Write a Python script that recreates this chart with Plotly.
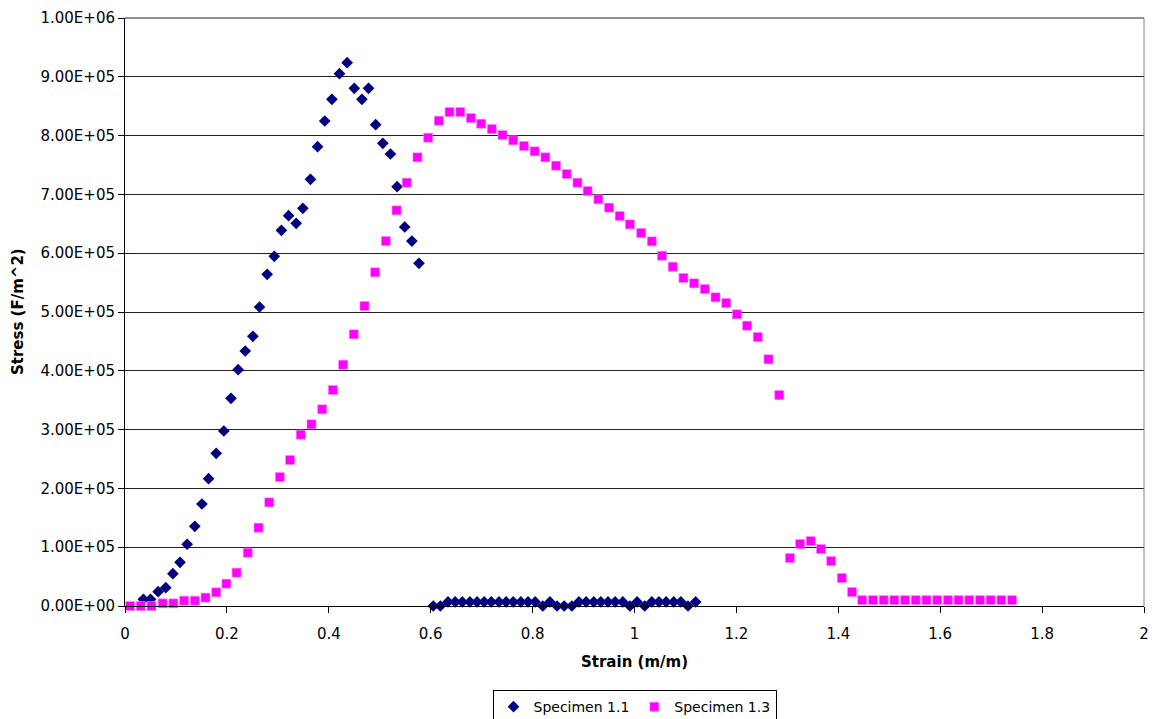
import plotly.graph_objects as go

# ---- data ----
spec11_strain = [0.036, 0.050, 0.065, 0.080, 0.094, 0.108, 0.122, 0.137, 0.151, 0.164,
                 0.179, 0.194, 0.208, 0.222, 0.236, 0.251, 0.264, 0.279, 0.293, 0.307,
                 0.321, 0.336, 0.349, 0.364, 0.378, 0.392, 0.406, 0.421, 0.436, 0.450,
                 0.465, 0.478, 0.492, 0.506, 0.521, 0.534, 0.549, 0.563, 0.577,
                 0.605, 0.619, 0.634, 0.648, 0.662, 0.677, 0.691, 0.705, 0.719, 0.734,
                 0.748, 0.762, 0.777, 0.791, 0.805, 0.820, 0.834, 0.848, 0.862, 0.877,
                 0.891, 0.905, 0.920, 0.934, 0.948, 0.962, 0.977, 0.991, 1.005, 1.020,
                 1.034, 1.048, 1.062, 1.077, 1.091, 1.105, 1.120]
spec11_stress = [11400, 11400, 24300, 31100, 54900, 74300, 105000, 135500, 173500, 216500,
                 259700, 297600, 353200, 401900, 433700, 458700, 508500, 564100, 594700, 638900,
                 663800, 650800, 676400, 725700, 781100, 824800, 861700, 905300, 924000, 880400,
                 861700, 880400, 818600, 786900, 768700, 713100, 644600, 620700, 582800,
                 0, 0, 7000, 7000, 7000, 7000, 7000, 7000, 7000, 7000,
                 7000, 7000, 7000, 7000, 7000, 0, 7000, 0, 0, 0,
                 7000, 7000, 7000, 7000, 7000, 7000, 7000, 0, 7000, 0,
                 7000, 7000, 7000, 7000, 7000, 0, 7000]

spec13_strain = [0.010, 0.031, 0.052, 0.074, 0.095, 0.116, 0.137, 0.158, 0.179, 0.199,
                 0.219, 0.241, 0.262, 0.283, 0.304, 0.324, 0.345, 0.366, 0.387, 0.408,
                 0.428, 0.449, 0.470, 0.491, 0.512, 0.533, 0.553, 0.574, 0.595, 0.616,
                 0.637, 0.658, 0.679, 0.699, 0.720, 0.741, 0.762, 0.783, 0.804, 0.825,
                 0.846, 0.867, 0.888, 0.908, 0.929, 0.950, 0.971, 0.991, 1.013, 1.034,
                 1.054, 1.075, 1.096, 1.117, 1.138, 1.159, 1.180, 1.201, 1.221, 1.242,
                 1.263, 1.284, 1.305, 1.325, 1.346, 1.366, 1.386, 1.407, 1.427,
                 1.447, 1.468, 1.489, 1.510, 1.531, 1.552, 1.573, 1.594, 1.615, 1.636,
                 1.657, 1.678, 1.699, 1.720, 1.741]
spec13_stress = [0, 0, 0, 4500, 4500, 9000, 9000, 14200, 23300, 38000,
                 56700, 90700, 133200, 176300, 219400, 248300, 291400, 309000, 334500, 367300,
                 410400, 462100, 510200, 567500, 620700, 672900, 719900, 763100, 796400, 825300,
                 840100, 840100, 829900, 820200, 811200, 801000, 792000, 782300, 773300, 763100,
                 748800, 734700, 719900, 705800, 691700, 677400, 663300, 649100, 634400, 620200,
                 595700, 577000, 557800, 548800, 539100, 525000, 515300, 496100, 476700, 457500,
                 419600, 358800, 81600, 105400, 110500, 96900, 76500, 47600, 23800,
                 10000, 10000, 10000, 10000, 10000, 10000, 10000, 10000, 10000, 10000,
                 10000, 10000, 10000, 10000, 10000]

y_tickvals = [0, 100000, 200000, 300000, 400000, 500000, 600000, 700000, 800000, 900000, 1000000]
y_ticktext = ["0.00E+00", "1.00E+05", "2.00E+05", "3.00E+05", "4.00E+05", "5.00E+05",
              "6.00E+05", "7.00E+05", "8.00E+05", "9.00E+05", "1.00E+06"]
x_tickvals = [0, 0.2, 0.4, 0.6, 0.8, 1.0, 1.2, 1.4, 1.6, 1.8, 2.0]
x_ticktext = ["0", "0.2", "0.4", "0.6", "0.8", "1", "1.2", "1.4", "1.6", "1.8", "2"]

FONT = "DejaVu Sans"

fig = go.Figure()
fig.add_trace(go.Scatter(
    x=spec11_strain, y=spec11_stress, mode="markers", name="Specimen 1.1",
    marker=dict(symbol="diamond", size=9, color="#000080", line=dict(width=0)),
    cliponaxis=False))
fig.add_trace(go.Scatter(
    x=spec13_strain, y=spec13_stress, mode="markers", name="Specimen 1.3",
    marker=dict(symbol="square", size=9, color="#FF00FF", line=dict(width=0.6, color="#FF80FF")),
    cliponaxis=False))

# page body adds an 8px offset; the figure is sized to compensate
fig.update_layout(
    width=1151, height=711,
    margin=dict(l=117, r=15, t=10, b=113, autoexpand=False),
    plot_bgcolor="white", paper_bgcolor="white",
    font=dict(family=FONT, size=15, color="black"),
    showlegend=True,
    legend=dict(orientation="h", x=0.5, xanchor="center", y=-0.1429, yanchor="top",
                bordercolor="black", borderwidth=1, font=dict(size=14, family=FONT),
                itemwidth=30, tracegroupgap=0),
    xaxis=dict(range=[0, 2], tickvals=x_tickvals, ticktext=x_ticktext,
               ticks="outside", ticklen=6, tickcolor="black", tickwidth=1,
               showline=True, linecolor="black", linewidth=1,
               showgrid=False, zeroline=False, ticklabelstandoff=8,
               tickfont=dict(family=FONT, size=15)),
    yaxis=dict(range=[0, 1000000], tickvals=y_tickvals, ticktext=y_ticktext,
               ticks="outside", ticklen=6, tickcolor="black", tickwidth=1,
               showline=True, linecolor="black", linewidth=1,
               showgrid=True, gridcolor="#222222", gridwidth=1, zeroline=False,
               tickfont=dict(family=FONT, size=15)),
    annotations=[
        dict(text="<b>Strain (m/m)</b>", xref="paper", yref="paper", x=0.5, y=-0.0952,
             xanchor="center", yanchor="middle", showarrow=False,
             font=dict(family=FONT, size=15)),
        dict(text="<b>Stress (F/m^2)</b>", xref="paper", yref="paper", x=-0.105, y=0.5,
             xanchor="center", yanchor="middle", textangle=-90, showarrow=False,
             font=dict(family=FONT, size=15)),
    ],
    shapes=[
        dict(type="line", xref="paper", yref="paper", x0=1, x1=1, y0=0, y1=1,
             line=dict(color="#808080", width=1)),
        dict(type="line", xref="paper", yref="paper", x0=0, x1=1, y0=1, y1=1,
             line=dict(color="#222222", width=1)),
    ],
)

fig.write_html("out.html")
